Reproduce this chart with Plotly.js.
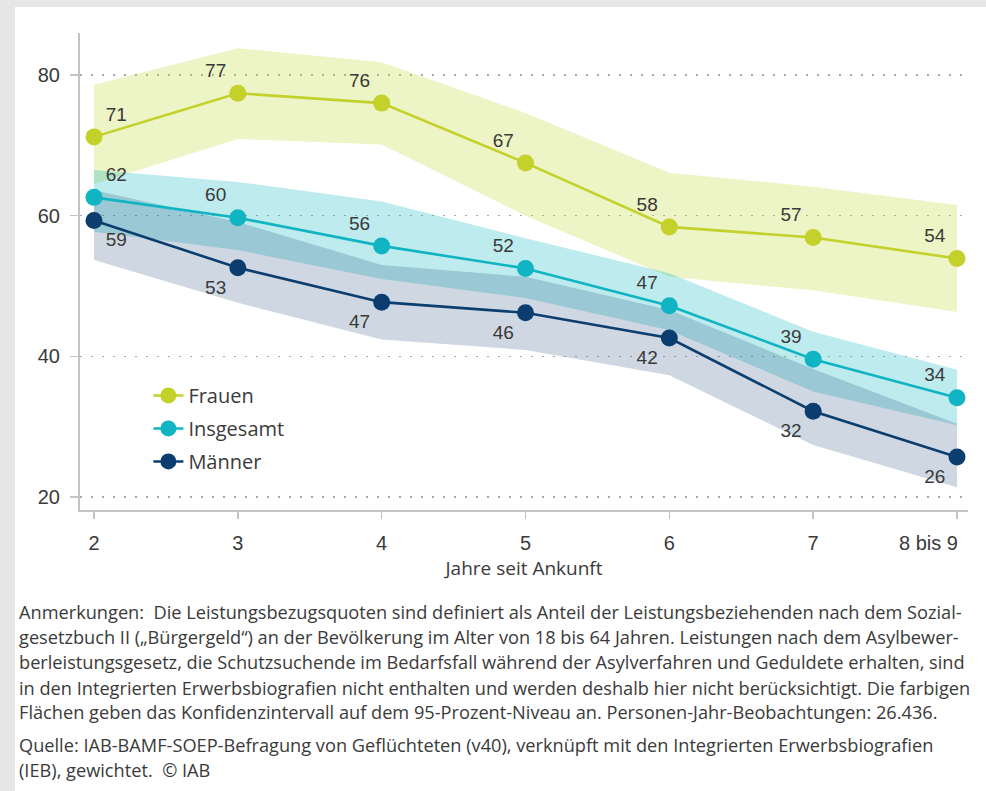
<!DOCTYPE html>
<html>
<head>
<meta charset="utf-8">
<script src="https://cdn.plot.ly/plotly-3.0.1.min.js"></script>
<style>
  html, body { margin: 0; padding: 0; background: #e6e6e6; width: 986px; height: 791px; overflow: hidden; }
  #chart { position: absolute; left: 15px; top: 7px; width: 971px; height: 784px; background: #ffffff; }
</style>
</head>
<body>
<div id="chart"></div>
<script>
// ---- Data ----
const xVals = [2, 3, 4, 5, 6, 7, 8];
const xTickText = ["2", "3", "4", "5", "6", "7", "8 bis 9"];
const yTicks = [20, 40, 60, 80];

const seriesNames = ["Frauen", "Insgesamt", "Männer"];

const frauen       = [71.2, 77.4, 76.0, 67.5, 58.4, 56.9, 53.9];
const frauenUpper  = [78.6, 83.8, 81.8, 74.6, 66.1, 64.1, 61.5];
const frauenLower  = [64.5, 70.9, 70.1, 60.0, 51.3, 49.4, 46.3];
const frauenLabels = ["71", "77", "76", "67", "58", "57", "54"];

const insgesamt       = [62.6, 59.7, 55.7, 52.5, 47.2, 39.6, 34.1];
const insgesamtUpper  = [66.5, 64.8, 62.0, 56.8, 51.8, 43.5, 38.1];
const insgesamtLower  = [57.7, 55.1, 51.0, 48.3, 43.7, 35.0, 30.2];
const insgesamtLabels = ["62", "60", "56", "52", "47", "39", "34"];

const maenner       = [59.3, 52.6, 47.7, 46.2, 42.6, 32.2, 25.7];
const maennerUpper  = [63.6, 59.1, 53.0, 51.3, 46.6, 38.2, 30.4];
const maennerLower  = [53.7, 47.6, 42.4, 40.9, 37.3, 27.4, 21.4];
const maennerLabels = ["59", "53", "47", "46", "42", "32", "26"];

const noteLines = [
  "Anmerkungen:\u00a0 Die Leistungsbezugsquoten sind definiert als Anteil der Leistungsbeziehenden nach dem Sozial-",
  "gesetzbuch II (\u201eBürgergeld\u201c) an der Bevölkerung im Alter von 18 bis 64 Jahren. Leistungen nach dem Asylbewer-",
  "berleistungsgesetz, die Schutzsuchende im Bedarfsfall während der Asylverfahren und Geduldete erhalten, sind",
  "in den Integrierten Erwerbsbiografien nicht enthalten und werden deshalb hier nicht berücksichtigt. Die farbigen",
  "Flächen geben das Konfidenzintervall auf dem 95-Prozent-Niveau an. Personen-Jahr-Beobachtungen: 26.436.",
  "Quelle: IAB-BAMF-SOEP-Befragung von Geflüchteten (v40), verknüpft mit den Integrierten Erwerbsbiografien",
  "(IEB), gewichtet.\u00a0 © IAB"
];

// ---- Styles ----
const colFrauen = "#c3d12a";
const colIns = "#10b4c2";
const colMae = "#0b3e6f";
const bandFrauen = "rgba(190,214,40,0.27)";
const bandIns = "rgba(0,178,190,0.26)";
const bandMae = "rgba(14,61,110,0.20)";
const textCol = "#3a3a3a";
const numFont = "Liberation Sans, Arial, sans-serif";
const txtFont = "Open Sans, sans-serif";

function band(upper, lower, color) {
  return {
    x: xVals.concat(xVals.slice().reverse()),
    y: upper.concat(lower.slice().reverse()),
    type: "scatter", mode: "lines", fill: "toself",
    fillcolor: color, line: { width: 0 }, hoverinfo: "skip", showlegend: false
  };
}

function line(y, labels, name, color, positions, group) {
  return {
    x: xVals, y: y, name: name, legendgroup: group,
    type: "scatter", mode: "lines+markers+text",
    line: { color: color, width: 2.6 },
    marker: { color: color, size: 17 },
    text: labels, textposition: positions,
    textfont: { family: numFont, size: 19, color: textCol },
    cliponaxis: false
  };
}

const posF = ["top right", "top left", "top left", "top left", "top left", "top left", "top left"];
const posI = ["top right", "top left", "top left", "top left", "top left", "top left", "top left"];
const posM = ["bottom right", "bottom left", "bottom left", "bottom left", "bottom left", "bottom left", "bottom left"];

const data = [
  band(frauenUpper, frauenLower, bandFrauen),
  band(insgesamtUpper, insgesamtLower, bandIns),
  band(maennerUpper, maennerLower, bandMae),
  line(frauen, frauenLabels, seriesNames[0], colFrauen, posF, "g1"),
  line(insgesamt, insgesamtLabels, seriesNames[1], colIns, posI, "g2"),
  line(maenner, maennerLabels, seriesNames[2], colMae, posM, "g3")
];

// notes as annotations (paper coords relative to plot area 80..968 x, 33..510 y in page px)
const noteY = [612, 637, 662, 688, 712, 745, 770];
const annotations = noteLines.map((t, i) => ({
  text: t, xref: "paper", yref: "paper",
  x: (17 - 80) / 888, y: (510 - noteY[i]) / 477,
  xanchor: "left", yanchor: "middle", showarrow: false, align: "left",
  font: { family: txtFont, size: 18.2, color: textCol }
}));

// last x tick label is right-aligned to its tick in the reference
const lastIdx = xVals.length - 1;
annotations.push({
  text: xTickText[lastIdx], xref: "x", yref: "paper",
  x: xVals[lastIdx], y: (510 - 543) / 477,
  xanchor: "right", yanchor: "middle", xshift: 3, showarrow: false,
  font: { family: numFont, size: 20, color: textCol }
});
const shownTickText = xTickText.map((t, i) => (i === lastIdx ? "" : t));

const layout = {
  width: 971, height: 784,
  margin: { l: 65, r: 18, t: 26, b: 281 },
  paper_bgcolor: "#ffffff", plot_bgcolor: "#ffffff",
  showlegend: true,
  legend: {
    x: 0.077, y: 0.281, xanchor: "left", yanchor: "top",
    bgcolor: "rgba(0,0,0,0)", borderwidth: 0,
    font: { family: txtFont, size: 20, color: textCol },
    tracegroupgap: 4, traceorder: "grouped"
  },
  xaxis: {
    range: [1.9027, 8.0765],
    tickvals: xVals, ticktext: shownTickText,
    showgrid: false, zeroline: false,
    showline: true, linecolor: "#c4c4c4", linewidth: 2,
    ticks: "outside", ticklen: 7, tickwidth: 1.5, tickcolor: "#c4c4c4",
    tickfont: { family: numFont, size: 20, color: textCol },
    ticklabelstandoff: 7,
    title: { text: "Jahre seit Ankunft", font: { family: txtFont, size: 19, color: textCol }, standoff: 9 }
  },
  yaxis: {
    range: [18.15, 85.97],
    tickvals: yTicks,
    showgrid: true, gridcolor: "#a8a8a8", gridwidth: 1.5, griddash: "2px,9px",
    zeroline: false,
    showline: true, linecolor: "#c4c4c4", linewidth: 2,
    ticks: "outside", ticklen: 8, tickwidth: 1.5, tickcolor: "#c4c4c4",
    tickfont: { family: numFont, size: 20, color: textCol },
    ticklabelstandoff: 6
  },
  annotations: annotations,
  hovermode: false
};

Plotly.newPlot("chart", data, layout, { displayModeBar: false, staticPlot: true });
</script>
</body>
</html>
